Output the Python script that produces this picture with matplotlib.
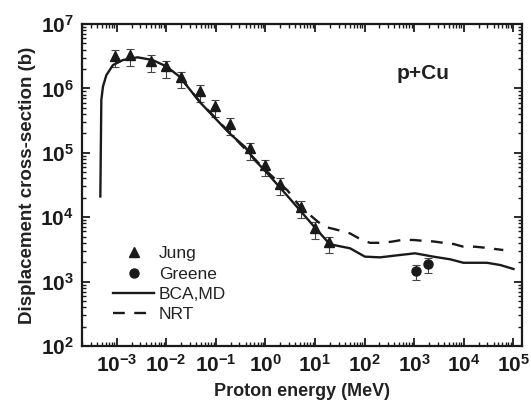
import matplotlib
matplotlib.use("Agg")
import matplotlib.pyplot as plt
import numpy as np
from matplotlib.ticker import LogLocator, NullFormatter

plt.rcParams['font.family'] = ['Liberation Sans', 'DejaVu Sans']

# ---- data ----
jung_E = [9.3e-4, 1.9e-3, 4.9e-3, 9.8e-3, 1.95e-2, 4.8e-2, 9.5e-2, 0.19, 0.49,
          1.0, 2.0, 5.2, 10.0, 19.0]
jung_S = [3.2e6, 3.3e6, 2.7e6, 2.2e6, 1.5e6, 9.1e5, 5.4e5, 2.8e5, 1.17e5,
          6.4e4, 3.3e4, 1.45e4, 6.8e3, 4.1e3]
jung_err_lo = 0.33   # relative
jung_err_hi = 0.22

greene_E = [1070, 1900]
greene_S = [1.45e3, 1.86e3]
greene_err_lo = 0.28
greene_err_hi = 0.24

bca_E = [4.69e-4, 4.91e-4, 5.3e-4, 6.19e-4, 8.4e-4, 1.34e-3, 2.65e-3, 5.3e-3,
         1.0e-2, 1.87e-2, 4.7e-2, 9.5e-2, 0.19, 0.385, 0.61, 1.0, 3.1, 10.0,
         20.0, 51, 102, 206, 521, 1047, 2450, 5330, 9900, 29400, 54600, 1.01e5]
bca_S = [2.1e4, 6.6e5, 1.07e6, 1.6e6, 2.3e6, 2.76e6, 3.04e6, 2.76e6,
         2.2e6, 1.52e6, 6.2e5, 3.5e5, 2.0e5, 1.24e5, 7.7e4, 5.2e4, 1.95e4, 6.9e3,
         3.8e3, 3.29e3, 2.44e3, 2.38e3, 2.59e3, 2.75e3, 2.44e3, 2.22e3, 1.96e3,
         1.96e3, 1.81e3, 1.57e3]

nrt_E = [1.87e-2, 4.7e-2, 0.19, 0.61, 1.0, 2.8, 5.0, 11.5, 15.9, 32, 51, 88, 129,
         222, 355, 563, 968, 1500, 2460, 3900, 6200, 9900, 17000, 27000, 63000]
nrt_S = [1.52e6, 6.3e5, 2.05e5, 8.0e4, 5.4e4, 2.6e4, 1.46e4, 8.5e3, 7.1e3, 6.2e3,
         5.6e3, 4.43e3, 4.0e3, 4.0e3, 4.17e3, 4.43e3, 4.43e3, 4.3e3, 4.2e3,
         4.0e3, 3.84e3, 3.48e3, 3.48e3, 3.36e3, 3.09e3]

xticks = [1e-3, 1e-2, 1e-1, 1e0, 1e1, 1e2, 1e3, 1e4, 1e5]
xticklabels = [r'$\mathbf{10^{-3}}$', r'$\mathbf{10^{-2}}$', r'$\mathbf{10^{-1}}$',
               r'$\mathbf{10^{0}}$', r'$\mathbf{10^{1}}$', r'$\mathbf{10^{2}}$',
               r'$\mathbf{10^{3}}$', r'$\mathbf{10^{4}}$', r'$\mathbf{10^{5}}$']
yticks = [1e2, 1e3, 1e4, 1e5, 1e6, 1e7]
yticklabels = [r'$\mathbf{10^{2}}$', r'$\mathbf{10^{3}}$', r'$\mathbf{10^{4}}$',
               r'$\mathbf{10^{5}}$', r'$\mathbf{10^{6}}$', r'$\mathbf{10^{7}}$']

plt.rcParams['mathtext.fontset'] = 'custom'
plt.rcParams['mathtext.rm'] = 'Liberation Sans'
plt.rcParams['mathtext.bf'] = 'Liberation Sans:bold'

ink = '#1a1a1a'

fig = plt.figure(figsize=(5.31, 4.05), dpi=100)
ax = fig.add_axes([0.1544, 0.1457, 0.8286, 0.795])

ax.plot(bca_E, bca_S, '-', color=ink, lw=1.7, label='BCA,MD', zorder=3)
ax.plot(nrt_E, nrt_S, '--', color=ink, lw=1.7, dashes=(5, 4), label='NRT', zorder=3)

jS = np.array(jung_S)
ax.errorbar(jung_E, jung_S, yerr=[jS * jung_err_lo, jS * jung_err_hi], fmt='none',
            ecolor='#444444', elinewidth=0.8, capsize=3, capthick=0.8, zorder=2)
ax.plot(jung_E, jung_S, '^', color=ink, ms=7.5, ls='none', label='Jung', zorder=4)

gS = np.array(greene_S)
ax.errorbar(greene_E, greene_S, yerr=[gS * greene_err_lo, gS * greene_err_hi], fmt='none',
            ecolor='#444444', elinewidth=0.8, capsize=3, capthick=0.8, zorder=2)
ax.plot(greene_E, greene_S, 'o', color=ink, ms=6.5, ls='none', label='Greene', zorder=4)

ax.set_xscale('log')
ax.set_yscale('log')
ax.set_xlim(2.0e-4, 1.5e5)
ax.set_ylim(1e2, 1e7)

ax.set_xticks(xticks)
ax.set_xticklabels(xticklabels)
ax.set_yticks(yticks)
ax.set_yticklabels(yticklabels)
ax.xaxis.set_minor_locator(LogLocator(base=10, subs=np.arange(2, 10), numticks=20))
ax.yaxis.set_minor_locator(LogLocator(base=10, subs=np.arange(2, 10), numticks=20))
ax.xaxis.set_minor_formatter(NullFormatter())
ax.yaxis.set_minor_formatter(NullFormatter())

ax.tick_params(which='both', direction='in', top=True, right=True, colors=ink)
ax.tick_params(which='major', length=6, width=1.3, labelsize=15, pad=6)
ax.tick_params(which='minor', length=3, width=1.0)
for s in ax.spines.values():
    s.set_linewidth(1.6)
    s.set_color(ink)

ax.set_xlabel('Proton energy (MeV)', fontsize=13, fontweight='bold', color='#222222', labelpad=5)
ax.set_ylabel('Displacement cross-section (b)', fontsize=13.5, fontweight='bold', color='#222222', labelpad=3)

ax.text(0.715, 0.845, 'p+Cu', transform=ax.transAxes, fontsize=15, fontweight='bold',
        color='#222222', ha='left', va='center')

handles, labels = ax.get_legend_handles_labels()
order = [labels.index(l) for l in ['Jung', 'Greene', 'BCA,MD', 'NRT']]
leg = ax.legend([handles[i] for i in order], [labels[i] for i in order],
                loc='upper left', bbox_to_anchor=(0.07, 0.31), frameon=False,
                fontsize=12.5, handlelength=2.4, handletextpad=0.25,
                labelspacing=0.3, borderpad=0, borderaxespad=0)
for t in leg.get_texts():
    t.set_color('#222222')

fig.savefig('out.png', dpi=100)
